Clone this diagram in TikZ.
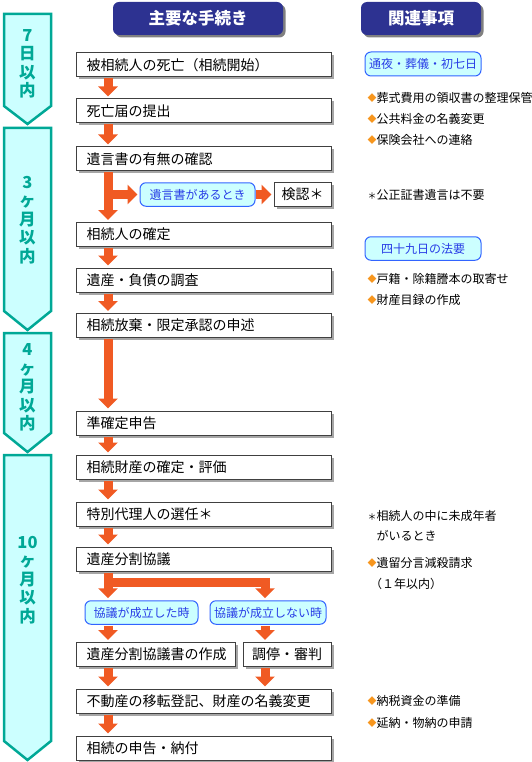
\documentclass[tikz,border=0pt]{standalone}
\usepackage{fontspec}
\setmainfont{Noto Sans CJK JP}
\usetikzlibrary{arrows.meta, shadows, calc}

\definecolor{navyhead}{RGB}{45,50,145}
\definecolor{tealline}{RGB}{0,168,150}
\definecolor{cyanfill}{RGB}{204,255,255}
\definecolor{flowor}{RGB}{240,90,35}
\definecolor{diaor}{RGB}{247,150,30}
\definecolor{condline}{RGB}{50,100,255}
\definecolor{condtext}{RGB}{40,60,230}

\newcommand{\setsz}[2]{\fontsize{#1pt}{#2pt}\selectfont}

\begin{document}
\begin{tikzpicture}[x=1pt, y=-1pt,
  headbox/.style={rounded corners=6pt, fill=navyhead, text=white, font=\setsz{16.5}{18}\bfseries, minimum height=33pt, inner sep=0pt, drop shadow={shadow xshift=2.5pt, shadow yshift=-2.5pt, fill=black!50, opacity=1}},
  procbox/.style={draw=black!75, line width=1pt, fill=white, font=\setsz{14}{16}, minimum height=24pt, inner xsep=10pt, inner ysep=0pt, drop shadow={shadow xshift=2.5pt, shadow yshift=-2.5pt, fill=black!35, opacity=1}},
  widebox/.style={procbox, anchor=west, text width=235pt, align=left},
  condbox/.style={rounded corners=6pt, draw=condline, line width=1pt, fill=cyanfill, text=condtext, font=\setsz{12}{14}, minimum height=23.5pt, inner sep=0pt},
  note/.style={anchor=west, inner sep=0pt, font=\setsz{12}{14}},
  flowarrow/.style={draw=flowor, line width=9pt, -{Triangle[width=19pt, length=10pt]}, shorten <=1pt, shorten >=2pt},
  periodarrow/.style={draw=tealline, line width=2.5pt, fill=cyanfill},
  periodlabel/.style={text=tealline, font=\setsz{16.5}{18.5}\bfseries, align=center, inner sep=0pt}
]
\useasboundingbox (0,0) rectangle (532,762);

% LEFT: period arrows
\foreach \ya/\yb/\yc/\yt/\txt [count=\k] in {
  14/106/124/64/{7\\日\\以\\内},
  128/311/330/220/{3\\ヶ\\月\\以\\内},
  333/433/452/387.5/{4\\ヶ\\月\\以\\内},
  455/741/760/580/{10\\ヶ\\月\\以\\内}}{
  \draw[periodarrow] (4,\ya) -- (51,\ya) -- (51,\yb) -- (27.5,\yc) -- (4,\yb) -- cycle;
  \node[periodlabel] (period\k) at (27.5,\yt) {\txt};
}

% headings
\node[headbox, minimum width=170pt] (mainhead) at (198,18.5) {主要な手続き};
\node[headbox, minimum width=120pt] (relhead) at (421,18.5) {関連事項};

% MIDDLE: procedure boxes
\node[widebox] (death) at (76,65) {被相続人の死亡（相続開始）};
\node[widebox] (notice) at (76,111) {死亡届の提出};
\node[widebox] (will) at (76,159) {遺言書の有無の確認};
\node[condbox, minimum width=115pt] (haswill) at (197.5,194.5) {遺言書があるとき};
\node[procbox, minimum width=57pt, inner xsep=0pt] (probate) at (302.5,194.5) {検認＊};
\node[widebox] (heir) at (76,234.5) {相続人の確定};
\node[widebox] (survey) at (76,280) {遺産・負債の調査};
\node[widebox] (renounce) at (76,325.5) {相続放棄・限定承認の申述};
\node[widebox] (taxret) at (76,423) {準確定申告};
\node[widebox] (assets) at (76,467) {相続財産の確定・評価};
\node[widebox] (agent) at (76,514) {特別代理人の選任＊};
\node[widebox] (split) at (76,559) {遺産分割協議};
\node[condbox, minimum width=113pt] (agreed) at (141.5,612.5) {協議が成立した時};
\node[condbox, minimum width=116pt] (notagreed) at (268,612.5) {協議が成立しない時};
\node[procbox, anchor=west, text width=139pt, align=left] (splitdoc) at (76,654.5) {遺産分割協議書の作成};
\node[procbox, minimum width=88pt, inner xsep=0pt] (mediate) at (287,654.5) {調停・審判};
\node[widebox] (register) at (76,701) {不動産の移転登記、財産の名義変更};
\node[widebox] (filing) at (76,748) {相続の申告・納付};

% orange flow arrows
\coordinate (xl) at (108,0);
\coordinate (xr) at (265,0);
\foreach \a/\b in {death/notice, notice/will, will/heir, heir/survey, survey/renounce, renounce/taxret, taxret/assets, assets/agent, agent/split, split/agreed, agreed/splitdoc, splitdoc/register, register/filing}
  \draw[flowarrow] (\a.south -| xl) -- (\b.north -| xl);
\draw[flowarrow, shorten <=0pt] (haswill.west -| xl) -- (haswill.west);
\draw[flowarrow, shorten <=0pt] (haswill.east) -- (probate.west);
\coordinate (fork) at (108,582.5);
\draw[flowarrow, shorten <=0pt] (fork) -| (notagreed.north -| xr);
\draw[flowarrow] (notagreed.south -| xr) -- (mediate.north -| xr);
\draw[flowarrow] (mediate.south -| xr) -- (register.north -| xr);

% RIGHT: related items
\node[condbox, minimum width=116pt, minimum height=24pt] (wake) at (423,64) {通夜・葬儀・初七日};
\node[condbox, minimum width=116pt] (memorial) at (423,248.5) {四十九日の法要};
\foreach \y/\t [count=\k] in {98/葬式費用の領収書の整理保管, 118.5/公共料金の名義変更, 140/保険会社への連絡, 279/戸籍・除籍謄本の取寄せ, 300/財産目録の作成, 563/遺留分言減殺請求, 701/納税資金の準備, 722.5/延納・物納の申請}
  \node[note] (item\k) at (367.5,\y) {\textcolor{diaor}{\raisebox{0.8pt}{\setsz{9}{9}◆}}\t};
\node[note] (star1) at (367.5,195) {{\setsz{9}{9}＊}公正証書遺言は不要};
\node[note] (star2) at (367.5,516) {{\setsz{9}{9}＊}相続人の中に未成年者};
\node[note] (star2b) at (376.5,536) {がいるとき};
\node[note] (within) at (370,584) {（１年以内）};
\end{tikzpicture}
\end{document}
